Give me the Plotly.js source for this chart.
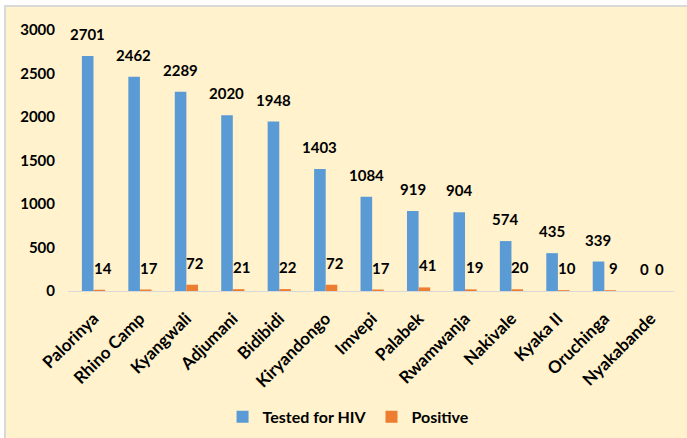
<!DOCTYPE html>
<html>
<head>
<meta charset="utf-8">
<script src="https://cdn.plot.ly/plotly-3.0.1.min.js"></script>
<style>
  html, body { margin: 0; padding: 0; background: #ffffff; }
  #wrap { position: absolute; left: 4px; top: 5px; width: 681px; height: 431px;
          border-left: 2px solid #d9d9d9; border-top: 2px solid #d9d9d9; }
  #chart { width: 681px; height: 431px; }
</style>
</head>
<body>
<div id="wrap"><div id="chart"></div></div>
<script>
const categories = ["Palorinya", "Rhino Camp", "Kyangwali", "Adjumani", "Bidibidi", "Kiryandongo",
  "Imvepi", "Palabek", "Rwamwanja", "Nakivale", "Kyaka II", "Oruchinga", "Nyakabande"];
const testedForHIV = [2701, 2462, 2289, 2020, 1948, 1403, 1084, 919, 904, 574, 435, 339, 0];
const positive = [14, 17, 72, 21, 22, 72, 17, 41, 19, 20, 10, 9, 0];
const yTicks = [0, 500, 1000, 1500, 2000, 2500, 3000];

const FONT = "Lato, 'Open Sans', sans-serif";

const traces = [
  { type: "bar", name: "Tested for HIV", x: categories, y: testedForHIV,
    marker: { color: "#5B9BD5" }, hoverinfo: "x+y" },
  { type: "bar", name: "Positive", x: categories, y: positive,
    marker: { color: "#ED7D31" }, hoverinfo: "x+y" }
];

const annotations = [];
categories.forEach((c, i) => {
  annotations.push({ x: c, y: testedForHIV[i], xref: "x", yref: "y", text: String(testedForHIV[i]),
    showarrow: false, xshift: -6, yshift: 11, yanchor: "bottom",
    font: { family: FONT, size: 15, color: "#000", weight: "bold" } });
  annotations.push({ x: c, y: positive[i], xref: "x", yref: "y", text: String(positive[i]),
    showarrow: false, xshift: 9, yshift: 11, yanchor: "bottom",
    font: { family: FONT, size: 15, color: "#000", weight: "bold" } });
});

const layout = {
  width: 681, height: 431,
  paper_bgcolor: "#FFF2CC", plot_bgcolor: "#FFF2CC",
  margin: { l: 62, r: 13, t: 23, b: 147 },
  barmode: "group", bargap: 0.5, bargroupgap: 0,
  font: { family: FONT, color: "#000" },
  xaxis: { type: "category", tickangle: -45, showline: true, linecolor: "#d9d9d9", linewidth: 1,
    ticks: "", showgrid: false, zeroline: false, ticklabelstandoff: 10,
    tickfont: { family: FONT, size: 17, color: "#000", weight: "bold" } },
  yaxis: { range: [0, 3000], tickvals: yTicks, ticktext: yTicks.map(String), showgrid: false,
    zeroline: false, showline: false, ticks: "", ticklabelstandoff: 12,
    tickfont: { family: FONT, size: 15, color: "#000", weight: "bold" } },
  legend: { orientation: "h", xref: "container", yref: "container", x: 0.503, xanchor: "center",
    y: 0.049, yanchor: "middle", font: { family: FONT, size: 16, color: "#000", weight: "bold" },
    bgcolor: "rgba(0,0,0,0)" },
  annotations: annotations,
  showlegend: true
};

Plotly.newPlot("chart", traces, layout, { displayModeBar: false, staticPlot: true });
</script>
</body>
</html>
